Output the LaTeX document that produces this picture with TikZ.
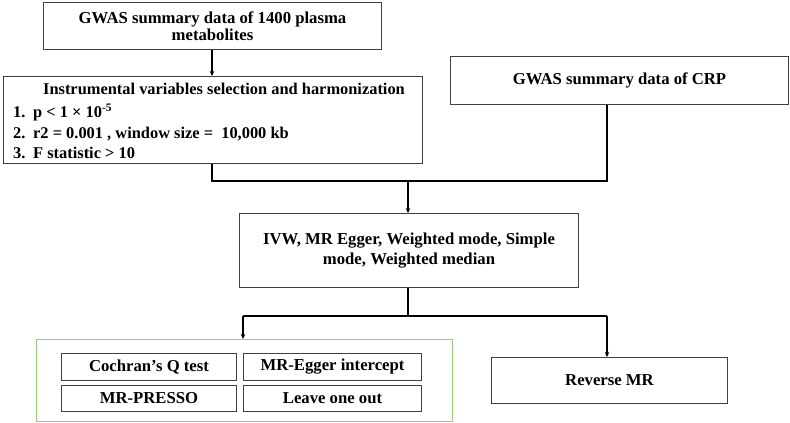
\documentclass[tikz,border=0pt]{standalone}
\usepackage{fontspec}
\setmainfont{Liberation Serif}
\usetikzlibrary{arrows.meta}
\definecolor{gline}{RGB}{150,205,120}
\begin{document}
\begin{tikzpicture}[x=1pt,y=-1pt,
  every node/.style={font=\fontsize{16.7}{20}\selectfont\bfseries},
  box/.style={draw=black!75,line width=1pt,rectangle,inner sep=0pt,anchor=north west},
  cell/.style={draw=black!75,line width=1pt,rectangle,inner sep=0pt,anchor=north west,align=center},
  gbox/.style={draw=gline,line width=1.3pt,rectangle,inner sep=0pt,anchor=north west},
  conn/.style={line width=1.3pt,black},
  arr/.style={conn,-{Stealth[length=5pt,width=4.5pt]}}]
\useasboundingbox (0,0) rectangle (790,423);
% boxes
\node[box,minimum width=338pt,minimum height=47pt,align=center,font=\fontsize{16.7}{17.5}\selectfont\bfseries] (b1) at (43,2)
  {GWAS summary data of 1400 plasma\\metabolites};
\node[box,minimum width=419pt,minimum height=87pt] (b2) at (3,76) {};
\node[anchor=north,font=\fontsize{16.4}{20}\selectfont\bfseries] (b2t) at (224,80) {Instrumental variables selection and harmonization};
\node[anchor=north west,align=left,font=\fontsize{16.4}{20.5}\selectfont\bfseries,inner sep=0pt] (b2l) at (13,104)
  {\makebox[20pt][l]{1.}p < 1 × 10\textsuperscript{-5}\\
   \makebox[20pt][l]{2.}r2 = 0.001 , window size =\ \ 10,000 kb\\
   \makebox[20pt][l]{3.}F statistic > 10};
\node[box,minimum width=338pt,minimum height=48pt] (crp) at (450,56) {GWAS summary data of CRP};
\node[box,minimum width=339pt,minimum height=74pt,align=center] (m) at (239,213)
  {IVW, MR Egger, Weighted mode, Simple\\mode, Weighted median};
\node[gbox,minimum width=416pt,minimum height=82pt] (g) at (36,339) {};
\node[cell,minimum width=175pt,minimum height=27pt] (c1) at (61,353) {Cochran’s Q test};
\node[cell,minimum width=178pt,minimum height=27pt] (c2) at (243,353) {MR-Egger intercept};
\node[cell,minimum width=175pt,minimum height=26pt] (c3) at (61,385) {MR-PRESSO};
\node[cell,minimum width=178pt,minimum height=26pt] (c4) at (243,385) {Leave one out};
\node[box,minimum width=236pt,minimum height=46pt] (rev) at (491,357) {Reverse MR};
% connectors
\coordinate (j1) at (212,181);
\coordinate (j2) at (607,181);
\coordinate (jm) at (408,181);
\coordinate (k0) at (408,316);
\coordinate (k1) at (243,316);
\coordinate (k2) at (607,316);
\draw[arr] (b1.south -| 212,0) -- (b2.north -| 212,0);
\draw[conn] (b2.south -| j1) -- (j1) -- (j2) -- (crp.south -| j2);
\draw[arr] (jm) -- (m.north -| jm);
\draw[conn] (m.south -| k0) -- (k0);
\draw[conn] (k1) -- (k2);
\draw[arr] (k1) -- (g.north -| k1);
\draw[arr] (k2) -- (rev.north -| k2);
\end{tikzpicture}
\end{document}
